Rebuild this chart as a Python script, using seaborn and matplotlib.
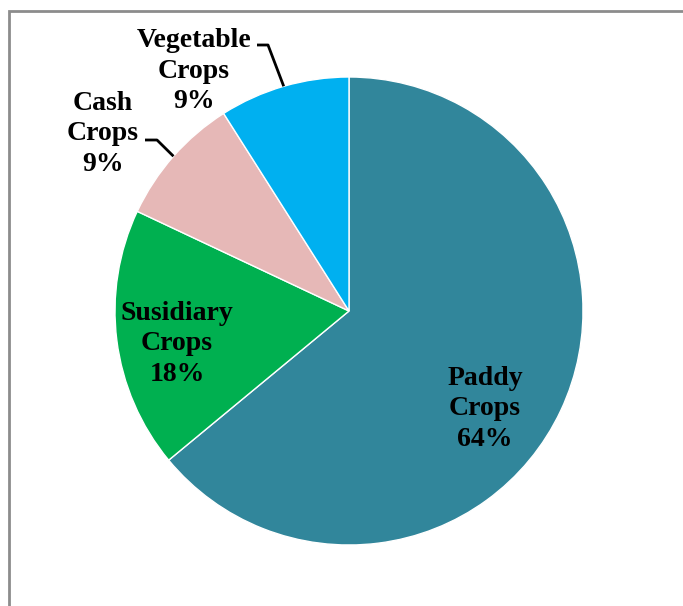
import numpy as np
import matplotlib
matplotlib.use("Agg")
import matplotlib.pyplot as plt
import seaborn as sns
from matplotlib.patches import Rectangle

categories = ["Paddy\nCrops", "Susidiary\nCrops", "Cash\nCrops", "Vegetable\nCrops"]
values = [64, 18, 9, 9]
colors = ["#31869B", "#00B050", "#E6B8B7", "#00B0F0"]

sns.set_theme(style="white")
plt.rcParams['font.family'] = ['Liberation Serif', 'DejaVu Serif']

W, H = 683, 606
fig = plt.figure(figsize=(W / 100, H / 100), dpi=100)
ax = fig.add_axes([0, 0, 1, 1])
R = 234.0
cx, cy = 349, 311

wedges, _ = ax.pie(values, colors=colors, startangle=90, counterclock=False,
                   radius=1.0, wedgeprops=dict(linewidth=1.0, edgecolor="white"))
ax.set_aspect("auto")
ax.set_xlim(-cx / R, (W - cx) / R)
ax.set_ylim(-(H - cy) / R, cy / R)
ax.axis("off")

def px(x, y):
    return ((x - cx) / R, (cy - y) / R)

fs = 20
labels = [f"{c}\n{v}%" for c, v in zip(categories, values)]
label_px = [(485, 409), (177, 344), (103, 134), (194, 71)]
for lab, (lx, ly) in zip(labels, label_px):
    ax.text(*px(lx, ly), lab, ha="center", va="center", fontsize=fs,
            fontweight="bold", linespacing=1.28, color="black")

# leader lines for outside labels
for idx, tx, ty, ex in [(2, 145, 140, 12), (3, 257, 45, 11)]:
    w = wedges[idx]
    mid = np.deg2rad((w.theta1 + w.theta2) / 2)
    pxp, pyp = np.cos(mid), np.sin(mid)
    x0, y0 = px(tx, ty)
    x1, y1 = px(tx + ex, ty)
    ax.plot([x0, x1, pxp], [y0, y1, pyp], color="black", lw=2, solid_capstyle="butt")

frame = Rectangle((8.5 / W, -0.1), 1.2, 1 - 11 / H + 0.1, transform=fig.transFigure,
                  fill=False, edgecolor="#8c8c8c", lw=2)
fig.patches.append(frame)

fig.savefig("out.png", dpi=100)
